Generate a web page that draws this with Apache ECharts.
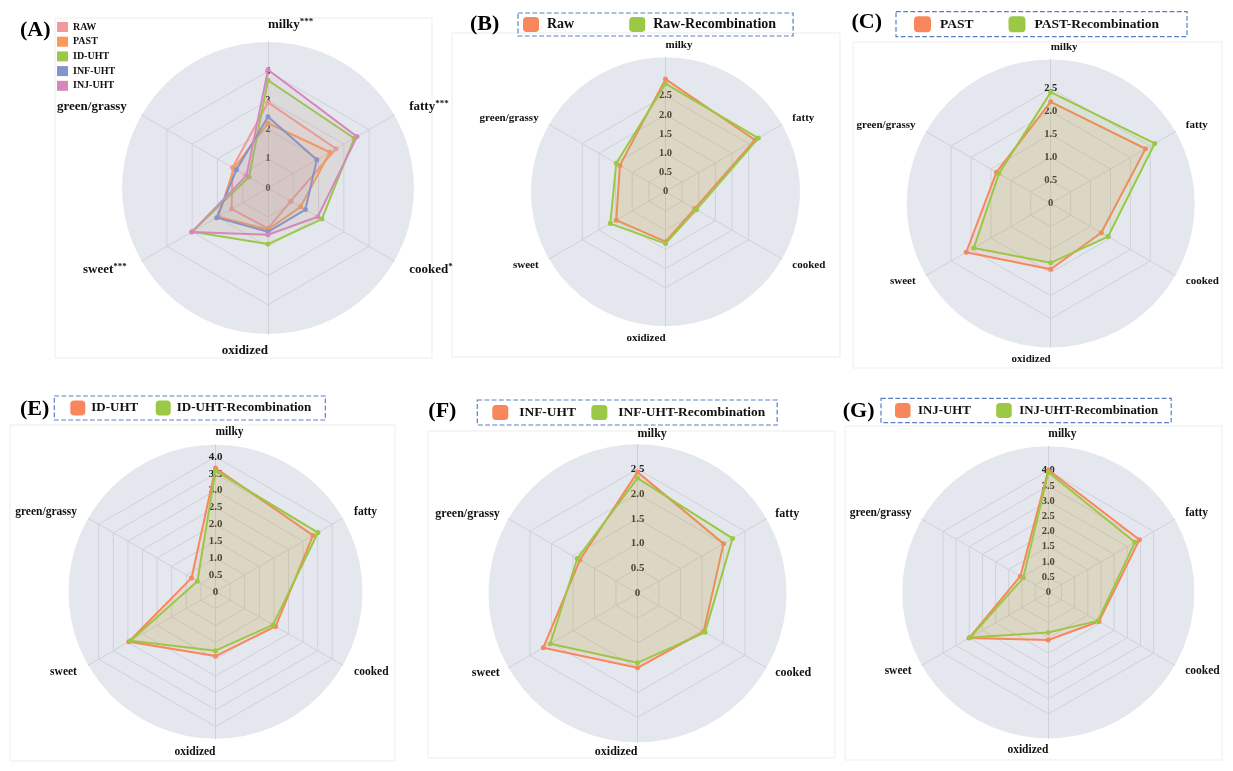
<!DOCTYPE html>
<html><head><meta charset="utf-8">
<script src="https://cdn.jsdelivr.net/npm/echarts@6/dist/echarts.min.js"></script>
<style>html,body{margin:0;padding:0;background:#fff}#chart{width:1233px;height:771px}</style>
</head><body><div id="chart"></div>
<script>
// Sensory attributes, in ECharts radar order (counter-clockwise from the top)
const attributes = ['milky', 'green/grassy', 'sweet', 'oxidized', 'cooked', 'fatty'];
const significanceA = ['***', '', '***', '', '*', '***'];

// (A) all five milks
const namesA = ['RAW', 'PAST', 'ID-UHT', 'INF-UHT', 'INJ-UHT'];
const rawA  = [2.93, 1.40, 1.44, 1.38, 0.90, 2.69];
const pastA = [2.22, 1.35, 1.97, 1.42, 1.29, 2.45];
const idA   = [3.69, 0.75, 3.00, 1.92, 2.13, 3.41];
const infA  = [2.44, 1.25, 2.03, 1.50, 1.48, 1.93];
const injA  = [4.05, 0.85, 3.02, 1.60, 1.97, 3.52];

// (B) - (G) sample vs recombination
const namesB = ['Raw', 'Raw-Recombination'];
const rawB   = [2.93, 1.37, 1.48, 1.30, 0.88, 2.69];
const rawRecB = [2.81, 1.48, 1.66, 1.35, 0.93, 2.79];

const namesC = ['PAST', 'PAST-Recombination'];
const pastC   = [2.21, 1.36, 2.12, 1.43, 1.27, 2.38];
const pastRecC = [2.42, 1.30, 1.93, 1.29, 1.44, 2.61];

const namesE = ['ID-UHT', 'ID-UHT-Recombination'];
const idE    = [3.67, 0.82, 2.97, 1.91, 2.06, 3.34];
const idRecE = [3.59, 0.62, 2.91, 1.75, 1.97, 3.51];

const namesF = ['INF-UHT', 'INF-UHT-Recombination'];
const infF    = [2.44, 1.34, 2.19, 1.50, 1.54, 2.00];
const infRecF = [2.32, 1.40, 2.03, 1.40, 1.57, 2.21];

const namesG = ['INJ-UHT', 'INJ-UHT-Recombination'];
const injG    = [4.02, 1.06, 3.01, 1.57, 1.92, 3.46];
const injRecG = [3.95, 0.95, 2.97, 1.32, 1.88, 3.29];

// ---------- styling / layout ----------
const SERIF = '"Liberation Serif", "Times New Roman", serif';
const BG = '#e5e7ef';
const GRID = '#d0d0d8';
const colorsA = ['#f29a9a', '#f99a5b', '#9bc84a', '#8394c9', '#d688bb'];
const pairColors = ['#f8875e', '#9bc845'];

const panels = [
  {key: 'A', title: '(A)', tx: 20, ty: 31, cx: 268, cy: 188, R: 146, circleMax: 5, step: 1, rings: 4, dec: 0,
   nameSize: 13, nameGap: 17, tickSize: 10, names: namesA, values: [rawA, pastA, idA, infA, injA], colors: colorsA,
   sig: significanceA, box: [55, 18, 377, 340]},
  {key: 'B', title: '(B)', tx: 470, ty: 25, cx: 665.5, cy: 191.7, R: 134.5, circleMax: 3.5, step: 0.5, rings: 5, dec: 1,
   nameSize: 11, nameGap: 12, tickSize: 10.5, names: namesB, values: [rawB, rawRecB], colors: pairColors,
   legend: {left: 518, top: 13, pad: [4, 17, 4, 5], w: 16, h: 15, gap: 55, font: 14, tpad: 3}, box: [452, 33, 388, 324]},
  {key: 'C', title: '(C)', tx: 851.5, ty: 23, cx: 1050.7, cy: 203.5, R: 144, circleMax: 3.13, step: 0.5, rings: 5, dec: 1,
   nameSize: 11, nameGap: 12, tickSize: 10.5, names: namesC, values: [pastC, pastRecC], colors: pairColors,
   legend: {left: 896, top: 11.7, pad: [4.5, 28, 4.5, 18], w: 17, h: 16, gap: 35, font: 13.5, tpad: 4}, box: [853, 42, 369, 326]},
  {key: 'E', title: '(E)', tx: 20, ty: 410, cx: 215.5, cy: 591.7, R: 147, circleMax: 4.36, step: 0.5, rings: 8, dec: 1,
   nameSize: 11.5, nameGap: 13, tickSize: 11, names: namesE, values: [idE, idRecE], colors: pairColors,
   legend: {left: 54.3, top: 396, pad: [4.5, 14, 4.5, 16], w: 15, h: 15, gap: 17.5, font: 13, tpad: 1}, box: [10, 425, 385, 336]},
  {key: 'F', title: '(F)', tx: 428.3, ty: 412, cx: 637.5, cy: 593.3, R: 149, circleMax: 3.0, step: 0.5, rings: 5, dec: 1,
   nameSize: 12, nameGap: 10, tickSize: 11, names: namesF, values: [infF, infRecF], colors: pairColors,
   legend: {left: 477.3, top: 400, pad: [5, 12, 5, 15], w: 16, h: 15, gap: 15.5, font: 13.4, tpad: 6}, box: [428, 431, 407, 327]},
  {key: 'G', title: '(G)', tx: 842.7, ty: 412, cx: 1048.3, cy: 592.3, R: 146, circleMax: 4.8, step: 0.5, rings: 8, dec: 1,
   nameSize: 11.5, nameGap: 12, tickSize: 10.5, names: namesG, values: [injG, injRecG], colors: pairColors,
   legend: {left: 881, top: 398.3, pad: [4.7, 13, 4.7, 14], w: 15.5, h: 15, gap: 25.5, font: 12.8, tpad: 2.6}, box: [845, 426, 377, 334]}
];

// text alignment of axis names: top & right side left-aligned, bottom & left side right-aligned
const nameAlign = ['left', 'right', 'right', 'right', 'left', 'left'];

const radars = [], series = [], legends = [], graphics = [];

panels.forEach((p, pi) => {
  const ringMax = p.step * p.rings;
  const sig = p.sig;
  radars.push({
    center: [p.cx, p.cy], radius: p.R, startAngle: 90, shape: 'circle', splitNumber: 1, z: 0,
    indicator: attributes.map((a, i) => ({name: a, min: 0, max: p.circleMax,
      nameTextStyle: {align: nameAlign[i], verticalAlign: 'middle'}})),
    nameGap: p.nameGap,
    axisName: {show: true, color: '#111', fontFamily: SERIF, fontWeight: 'bold', fontSize: p.nameSize,
      formatter: (name) => {
        const idx = attributes.indexOf(name);
        return (sig && sig[idx]) ? name + '{s|' + sig[idx] + '}' : name;
      },
      rich: {s: {fontFamily: SERIF, fontWeight: 'bold', fontSize: 9, color: '#111', verticalAlign: 'top', padding: [0, 0, 6, 0]}}
    },
    splitArea: {show: true, areaStyle: {color: [BG]}},
    splitLine: {show: false},
    axisLine: {show: true, lineStyle: {color: GRID, width: 1}},
    axisTick: {show: false},
    axisLabel: {show: false}
  });
  radars.push({
    center: [p.cx, p.cy], radius: p.R * ringMax / p.circleMax, startAngle: 90, shape: 'polygon',
    splitNumber: p.rings, z: 1,
    indicator: attributes.map((a, i) => ({name: a, min: 0, max: ringMax,
      axisLabel: {show: i === 0}})),
    axisName: {show: false},
    splitArea: {show: false},
    splitLine: {show: true, lineStyle: {color: GRID, width: 1}},
    axisLine: {show: false},
    axisTick: {show: false},
    axisLabel: {show: false, margin: 0, align: 'center', verticalAlign: 'middle', color: '#222',
      fontFamily: SERIF, fontWeight: 'bold', fontSize: p.tickSize,
      formatter: (v) => (v === 0 ? '0' : (p.dec ? Number(v).toFixed(p.dec) : String(Math.round(v))))}
  });
  const legendNames = [];
  p.names.forEach((n, si) => {
    const sname = p.key + '|' + n;
    legendNames.push(sname);
    series.push({
      type: 'radar', radarIndex: pi * 2, name: sname, z: 3 + si,
      symbol: 'circle', symbolSize: 5,
      color: p.colors[si],
      lineStyle: {color: p.colors[si], width: 2},
      itemStyle: {color: p.colors[si]},
      areaStyle: {color: p.colors[si], opacity: p.key === 'A' ? 0.1 : 0.14},
      data: [{value: p.values[si], name: sname}]
    });
  });
  if (p.key === 'A') {
    legends.push({
      orient: 'vertical', left: 57, top: 22, padding: 0, itemWidth: 11, itemHeight: 10, itemGap: 4.7,
      icon: 'rect', data: legendNames, selectedMode: false,
      formatter: (n) => n.split('|')[1],
      textStyle: {fontFamily: SERIF, fontWeight: 'bold', fontSize: 10, color: '#111'}
    });
  } else {
    const L = p.legend;
    legends.push({
      orient: 'horizontal', left: L.left, top: L.top, padding: L.pad, itemWidth: L.w, itemHeight: L.h,
      itemGap: L.gap, icon: 'roundRect', data: legendNames, selectedMode: false,
      borderColor: '#5a7fc4', borderWidth: 1.2, borderType: 'dashed',
      formatter: (n) => n.split('|')[1],
      textStyle: {fontFamily: SERIF, fontWeight: 'bold', fontSize: L.font, color: '#111', padding: [0, 0, 0, L.tpad]}
    });
  }
  graphics.push({
    type: 'rect', z: -10, silent: true,
    shape: {x: p.box[0], y: p.box[1], width: p.box[2], height: p.box[3]},
    style: {fill: null, stroke: '#ededed', lineWidth: 1}
  });
  graphics.push({
    type: 'text', left: p.tx, top: p.ty - 12, z: 10,
    style: {text: p.title, font: 'bold 22px ' + SERIF, fill: '#000'}
  });
});

const chart = echarts.init(document.getElementById('chart'), null, {renderer: 'canvas'});
chart.setOption({
  backgroundColor: '#ffffff',
  animation: false,
  radar: radars,
  legend: legends,
  series: series,
  graphic: graphics
});
</script></body></html>
